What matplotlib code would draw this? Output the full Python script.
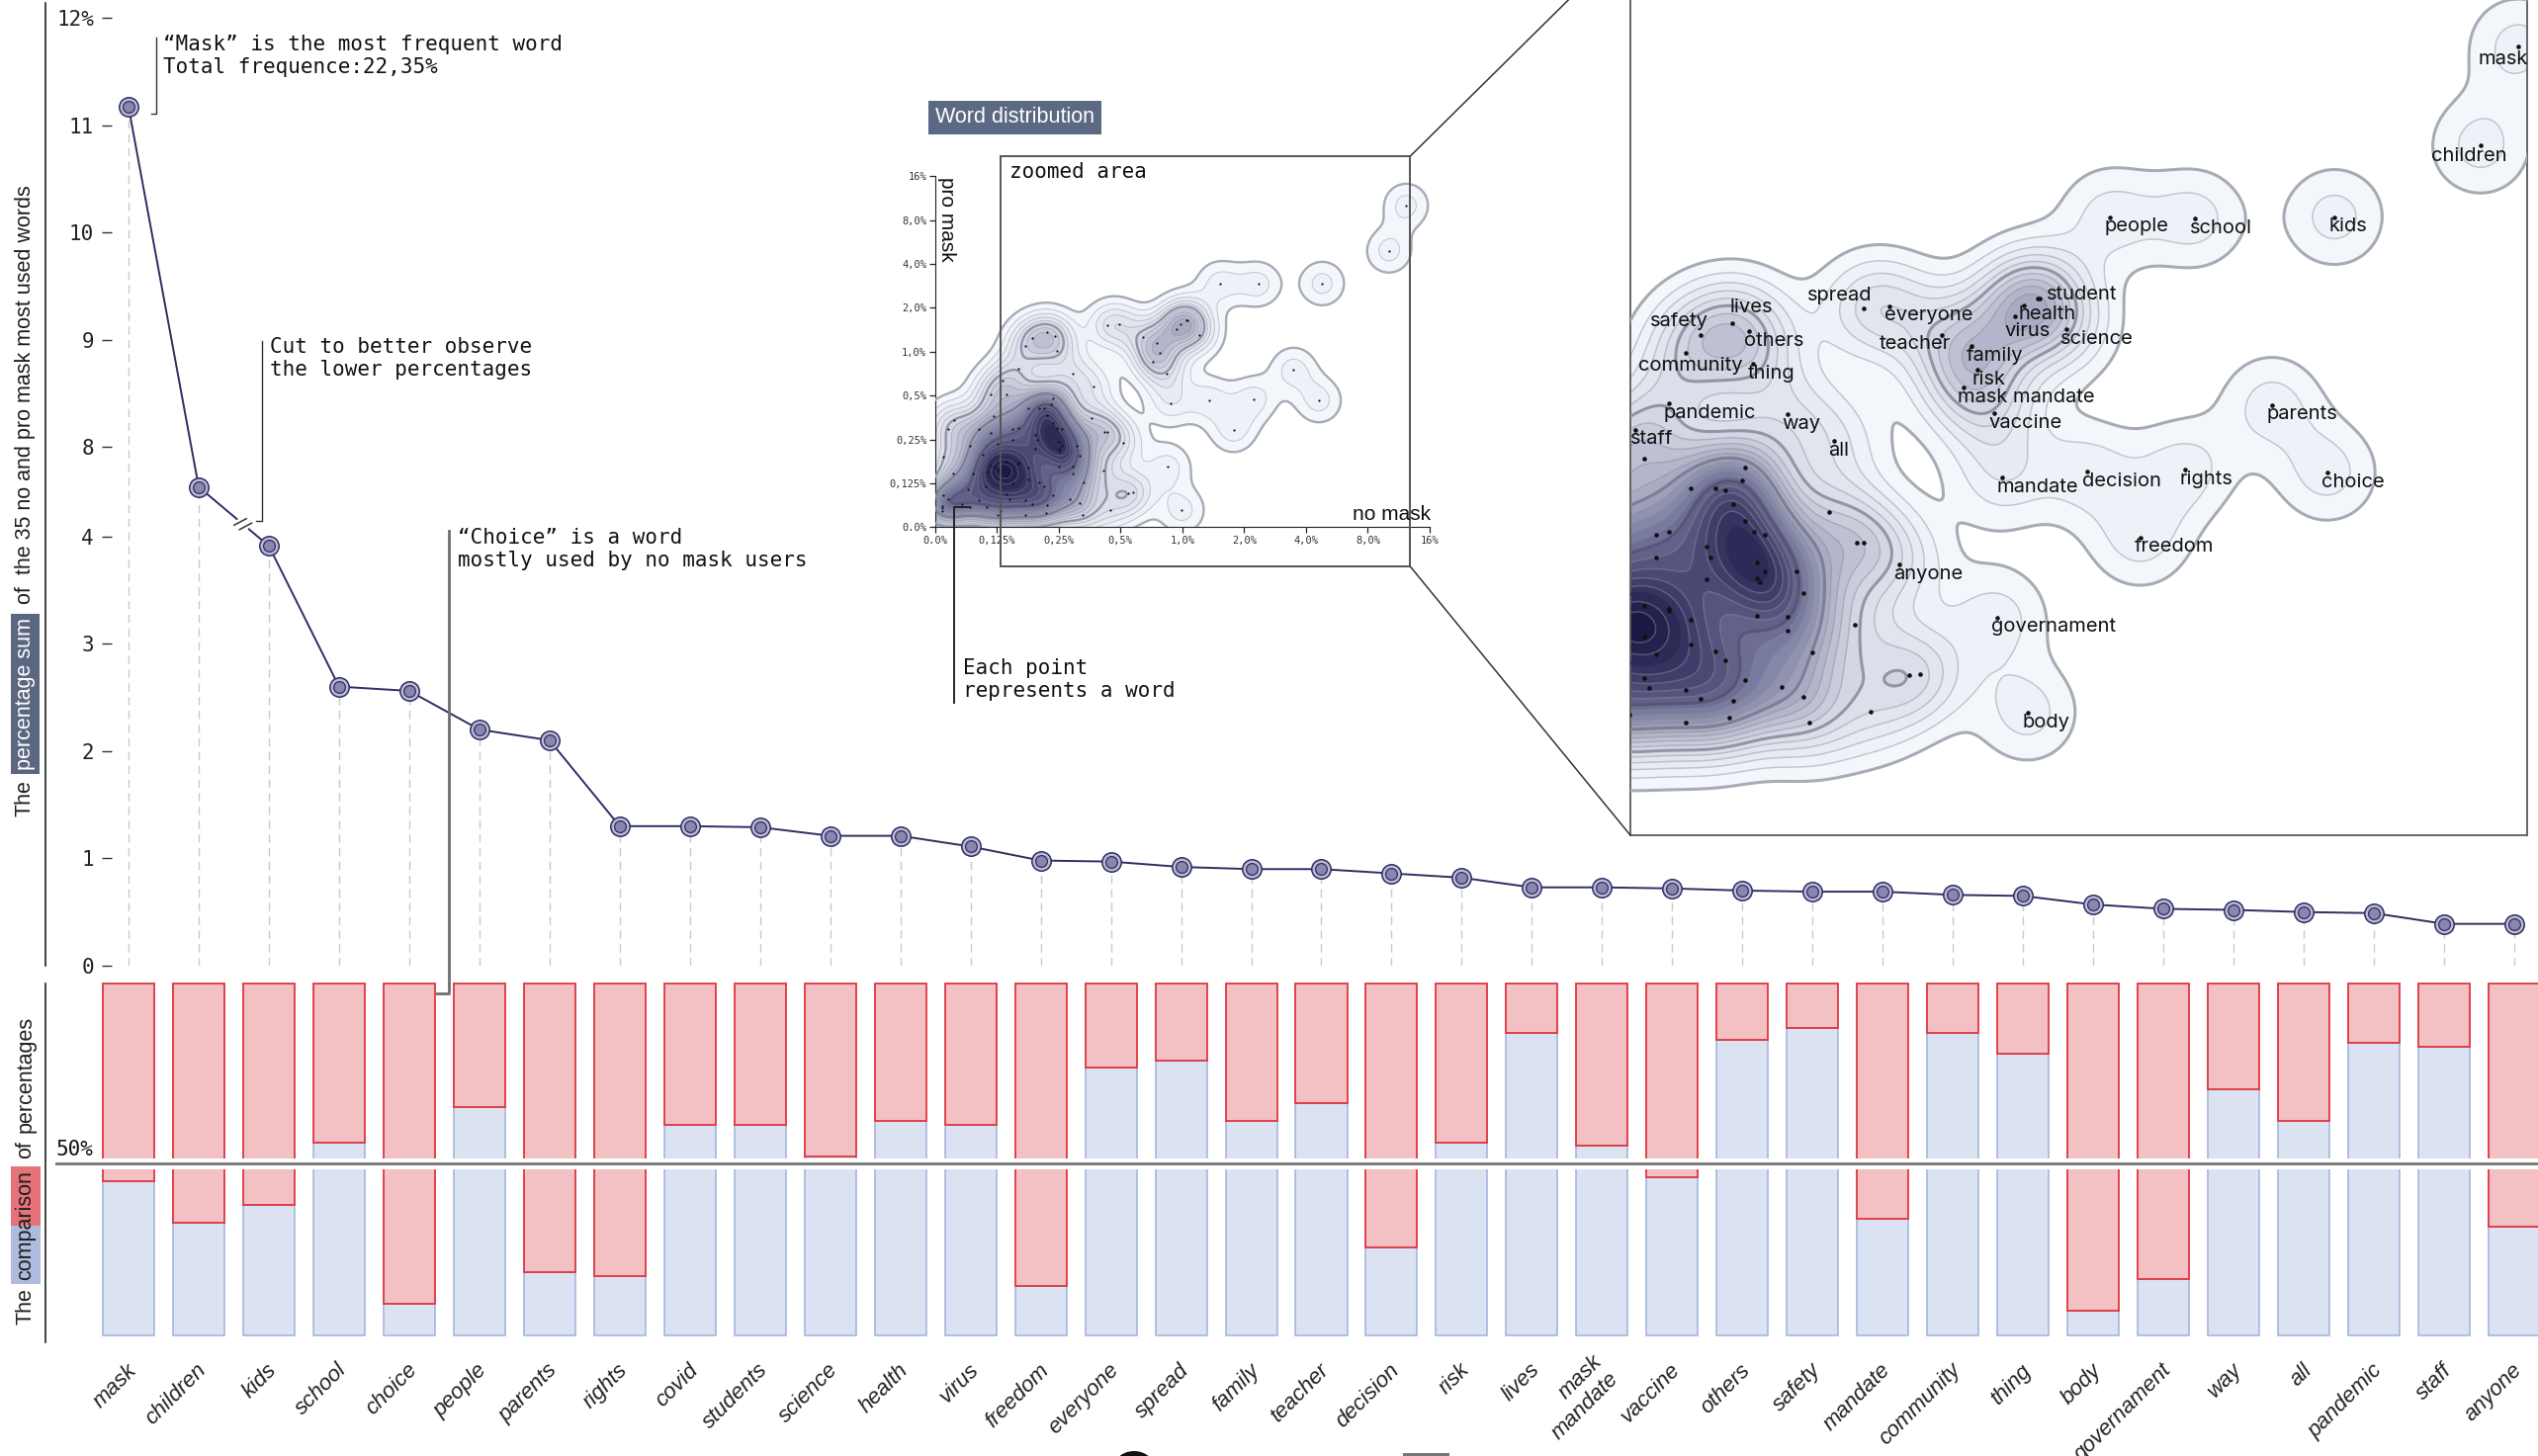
import numpy as np
import matplotlib
matplotlib.use("Agg")
import matplotlib.pyplot as plt
from matplotlib.colors import LinearSegmentedColormap
from matplotlib.lines import Line2D
from matplotlib.patches import Rectangle, ConnectionPatch, Circle
import matplotlib.transforms as mtransforms

W, H = 2567, 1473
MONO = "DejaVu Sans Mono"
SANS = "Liberation Sans"
WORDF = "Inter"

# ---------------- data ----------------
words = ["mask", "children", "kids", "school", "choice", "people", "parents", "rights",
         "covid", "students", "science", "health", "virus", "freedom", "everyone", "spread",
         "family", "teacher", "decision", "risk", "lives", "mask mandate", "vaccine", "others",
         "safety", "mandate", "community", "thing", "body", "governament", "way", "all",
         "pandemic", "staff", "anyone"]
# percentage sum (no mask + pro mask) / 2
pct_sum = [11.17, 7.63, 3.91, 2.60, 2.56, 2.20, 2.10, 1.30, 1.30, 1.29, 1.21, 1.21, 1.11,
           0.98, 0.97, 0.92, 0.90, 0.90, 0.86, 0.82, 0.73, 0.73, 0.72, 0.70, 0.69, 0.69,
           0.66, 0.65, 0.57, 0.53, 0.52, 0.50, 0.49, 0.39, 0.39]
# share of the word used by pro mask users (%), rest is no mask
pro_share = [46.4, 33.9, 39.3, 54.5, 9.5, 64.6, 19.0, 18.0, 59.6, 59.6, 50.5, 60.7, 59.6,
             14.9, 75.9, 77.8, 60.7, 65.8, 26.4, 54.5, 85.8, 53.6, 47.6, 83.8, 87.1, 35.0,
             85.8, 79.9, 7.4, 17.1, 69.7, 60.7, 82.9, 81.9, 32.8]

# word distribution (no mask %, pro mask %)
map_words = ["mask", "children", "kids", "people", "school", "student", "covid", "health",
             "virus", "science", "spread", "everyone", "teacher", "family", "risk",
             "mask mandate", "vaccine", "parents", "choice", "rights", "decision", "mandate",
             "freedom", "governament", "body", "anyone", "lives", "safety", "others",
             "community", "thing", "pandemic", "way", "staff", "all"]
map_no = [12.3, 10.14, 4.80, 1.52, 2.35, 1.05, 1.06, 0.977, 0.936, 1.216, 0.432, 0.493,
          0.644, 0.748, 0.773, 0.719, 0.841, 3.48, 4.63, 2.23, 1.355, 0.874, 1.775, 0.853,
          0.997, 0.517, 0.220, 0.187, 0.240, 0.173, 0.245, 0.159, 0.292, 0.134, 0.370]
map_pro = [10.05, 4.91, 2.93, 2.93, 2.90, 1.63, 1.63, 1.55, 1.43, 1.30, 1.51, 1.54, 1.25,
           1.153, 0.973, 0.853, 0.708, 0.753, 0.462, 0.472, 0.466, 0.445, 0.289, 0.162,
           0.048, 0.238, 1.363, 1.246, 1.285, 1.10, 1.015, 0.762, 0.705, 0.630, 0.579]
hidden_labels = {"covid"}

other_no = [0.140, 0.235, 0.231, 0.178, 0.202, 0.212, 0.221, 0.361, 0.235, 0.149, 0.159,
            0.246, 0.260, 0.416, 0.432, 0.193, 0.149, 0.197, 0.250, 0.306, 0.260, 0.193,
            0.250, 0.254, 0.316, 0.140, 0.159, 0.159, 0.250, 0.292, 0.178, 0.412, 0.292,
            0.140, 0.178, 0.149, 0.202, 0.331, 0.212, 0.543, 0.574, 0.140, 0.235, 0.144,
            0.173, 0.283, 0.187, 0.221, 0.316, 0.130, 0.446, 0.217, 0.173, 0.326,
            0.112, 0.119, 0.038, 0.027, 0.089, 0.113, 0.070, 0.126, 0.097, 0.016, 0.113,
            0.122, 0.127, 0.106, 0.037, 0.077, 0.103, 0.067, 0.016, 0.027, 0.089, 0.054,
            0.014, 0.071, 0.014, 0.104, 0.014, 0.127]
other_pro = [0.511, 0.478, 0.438, 0.411, 0.411, 0.406, 0.367, 0.348, 0.325, 0.295, 0.301,
             0.301, 0.295, 0.279, 0.279, 0.270, 0.250, 0.250, 0.241, 0.226, 0.226, 0.214,
             0.215, 0.209, 0.194, 0.176, 0.173, 0.170, 0.164, 0.163, 0.159, 0.154, 0.147,
             0.141, 0.133, 0.124, 0.127, 0.126, 0.116, 0.0965, 0.0986, 0.0926, 0.0905, 0.080,
             0.078, 0.081, 0.066, 0.063, 0.069, 0.045, 0.049, 0.041, 0.035, 0.035,
             0.509, 0.361, 0.339, 0.294, 0.293, 0.276, 0.227, 0.232, 0.197, 0.190, 0.166,
             0.159, 0.154, 0.151, 0.145, 0.145, 0.115, 0.108, 0.091, 0.079, 0.078, 0.066,
             0.061, 0.056, 0.054, 0.056, 0.047, 0.036]

dist_ticks = [0, 0.125, 0.25, 0.5, 1, 2, 4, 8, 16]
dist_ticklabels = ["0.0%", "0,125%", "0,25%", "0,5%", "1,0%", "2,0%", "4,0%", "8,0%", "16%"]
zoom_no = (0.1306, 12.87)
zoom_pro = (-0.112, 21.9)


# ---------------- scales ----------------
def cut_fwd(v):
    v = np.asarray(v, dtype=float)
    return np.where(v <= 4, v, np.where(v < 7.3, 4 + (v - 4) * 0.0394, v - 3.17))


def cut_inv(y):
    y = np.asarray(y, dtype=float)
    return np.where(y <= 4, y, np.where(y < 4.13, 4 + (y - 4) / 0.0394, y + 3.17))


def dbl_fwd(p):
    p = np.asarray(p, dtype=float)
    return np.where(p < 0.125, p / 0.125, np.log2(np.maximum(p, 0.125) / 0.125) + 1)


def dbl_inv(u):
    u = np.asarray(u, dtype=float)
    return np.where(u < 1, 0.125 * u, 0.125 * 2.0 ** (np.clip(u, 1, 60) - 1))


fig = plt.figure(figsize=(W / 100, H / 100), dpi=100)


def box(l, t, r, b):
    return [l / W, 1 - b / H, (r - l) / W, (b - t) / H]


def fline(xs, ys, **kw):
    fig.add_artist(Line2D([v / W for v in xs], [1 - v / H for v in ys],
                          transform=fig.transFigure, **kw))


def ftext(xp, yp, s, **kw):
    return fig.text(xp / W, 1 - yp / H, s, **kw)


x = np.arange(len(words))
X0, DX = 130, 70.97

# ---------------- top line chart ----------------
ax = fig.add_axes(box(113, 18, W, 977), facecolor="none")
ax.set_yscale("function", functions=(cut_fwd, cut_inv))
ax.set_xlim(-(X0 - 113) / DX, (W - X0) / DX)
ax.set_ylim(0, 12)
ax.vlines(x, 0, pct_sum, colors="#cacaca", linewidth=1, linestyles=(0, (6, 4)), zorder=1)
ax.plot(x, pct_sum, color="#2f2d63", lw=1.4, zorder=2)
ax.plot(x, pct_sum, "o", ls="none", ms=14, mfc="#bbbbd6", mec="#2f2d63", mew=1.1, zorder=3)
ax.plot(x, pct_sum, "o", ls="none", ms=8.5, mfc="#8987ae", mec="#2f2d63", mew=0.9, zorder=4)
ax.set_yticks([0, 1, 2, 3, 4, 8, 9, 10, 11, 12])
ax.set_yticklabels(["0", "1", "2", "3", "4", "8", "9", "10", "11", "12%"],
                   fontfamily=MONO, fontsize=15, color="#222")
ax.tick_params(axis="y", length=7, width=1, color="#333", pad=6)
ax.tick_params(axis="x", bottom=False, labelbottom=False)
for s in ax.spines.values():
    s.set_visible(False)
fline([46, 46], [3, 977], color="#222", lw=1.2)

# axis cut marker on the line between children and kids
p1 = ax.transData.transform((1, pct_sum[1]))
p2 = ax.transData.transform((2, pct_sum[2]))
d = (p2 - p1) / np.hypot(*(p2 - p1))
pm = p1 + 0.63 * (p2 - p1)
fig.add_artist(Line2D([pm[0] - 5 * d[0], pm[0] + 5 * d[0]], [pm[1] - 5 * d[1], pm[1] + 5 * d[1]],
                      color="white", lw=3, transform=mtransforms.IdentityTransform(), zorder=5))
for sgn in (-1, 1):
    c = pm + sgn * 3.5 * d
    e = np.array([np.cos(np.radians(28)), np.sin(np.radians(28))]) * 7
    fig.add_artist(Line2D([c[0] - e[0], c[0] + e[0]], [c[1] - e[1], c[1] + e[1]],
                          color="#333", lw=1.1, transform=mtransforms.IdentityTransform(), zorder=6))

# annotations
fline([153, 157.5, 157.5], [115, 115, 38], color="#333", lw=1)
ftext(165, 35, "\u201cMask\u201d is the most frequent word\nTotal frequence:22,35%",
      ha="left", va="top", fontfamily=MONO, fontsize=15, color="#111", linespacing=1.2)
fline([259, 265, 265], [527, 527, 345], color="#333", lw=1)
ftext(273, 341, "Cut to better observe\nthe lower percentages",
      ha="left", va="top", fontfamily=MONO, fontsize=15, color="#111", linespacing=1.2)
fline([442, 453.5, 453.5], [1005, 1005, 537], color="#6e6e6e", lw=2)
ftext(463, 534, "\u201cChoice\u201d is a word\nmostly used by no mask users",
      ha="left", va="top", fontfamily=MONO, fontsize=15, color="#111", linespacing=1.2)

# ---------------- comparison bars ----------------
ax_up = fig.add_axes(box(57, 993, W, 1172), facecolor="none")
ax_lo = fig.add_axes(box(57, 1183, W, 1352.5), facecolor="none")
pro = np.array(pro_share)
for a in (ax_up, ax_lo):
    a.bar(x, pro, width=0.733, color="#dbe2f1", edgecolor="#9fb1dd", linewidth=1.1)
    a.bar(x, 100 - pro, bottom=pro, width=0.733, color="#f3c1c3", edgecolor="#e0353f",
          linewidth=1.3)
    a.set_xlim(-(X0 - 57) / DX, (W - X0) / DX)
    a.set_yticks([])
    for s in a.spines.values():
        s.set_visible(False)
ax_up.set_ylim(50, 100.45)
ax_lo.set_ylim(-0.35, 50)
ax_up.set_xticks([])
ax_lo.set_xticks(x)
ax_lo.set_xticklabels([w.replace(" ", "\n") for w in words], rotation=45, ha="right",
                      va="center", rotation_mode="anchor", fontstyle="italic", fontsize=16,
                      fontfamily=SANS, color="#222")
ax_lo.tick_params(axis="x", length=0, pad=22)
shift = mtransforms.ScaledTranslation(0.05, 0, fig.dpi_scale_trans)
for lab in ax_lo.get_xticklabels():
    lab.set_transform(lab.get_transform() + shift)

fline([57, W], [1177, 1177], color="#808080", lw=2.2)
ftext(56, 1163, "50%", ha="left", va="center", fontfamily=MONO, fontsize=15, color="#111")
fline([46, 46], [995, 1358], color="#222", lw=1.2)

# ---------------- vertical labels ----------------
renderer = fig.canvas.get_renderer()


def stacked_label(xc, ybot, pieces, size=15.5, gap=10, pad=4):
    yd = H - ybot
    for txt, style in pieces:
        col = "white" if style == "dark" else "#1e1e1e"
        t = fig.text(xc / W, yd / H, txt, rotation=90, rotation_mode="anchor", ha="left",
                     va="center", fontsize=size, fontfamily=SANS, color=col, zorder=6)
        bb = t.get_window_extent(renderer)
        if style == "dark":
            fig.add_artist(Rectangle(((xc - 14.5) / W, (bb.y0 - pad) / H), 29 / W,
                                     (bb.height + 2 * pad) / H, transform=fig.transFigure,
                                     fc="#5b6680", ec="none", zorder=5))
        elif style == "split":
            mid = (bb.y0 + bb.y1) / 2
            fig.add_artist(Rectangle(((xc - 15) / W, (bb.y0 - pad) / H), 30 / W,
                                     (mid - bb.y0 + pad) / H, transform=fig.transFigure,
                                     fc="#aebbdc", ec="none", zorder=5))
            fig.add_artist(Rectangle(((xc - 15) / W, mid / H), 30 / W,
                                     (bb.y1 - mid + pad) / H, transform=fig.transFigure,
                                     fc="#e57379", ec="none", zorder=5))
        yd = bb.y1 + gap + (pad if style else 0)


stacked_label(25, 826, [("The", ""), ("percentage sum", "dark"),
                        ("of  the 35 no and pro mask most used words", "")])
stacked_label(26, 1340, [("The", ""), ("comparison", "split"), ("of", ""),
                         ("percentages", "")], gap=8)

# ---------------- word distribution (KDE) ----------------
all_no = np.r_[map_no, other_no]
all_pro = np.r_[map_pro, other_pro]
pu, pv = dbl_fwd(all_no), dbl_fwd(all_pro)
gu = np.linspace(-1.5, 9.5, 700)
gv = np.linspace(-1.5, 9.5, 700)
su, sv = 16.6 / 62.65, 16.6 / 44.4
Gu = np.exp(-(gu[None, :] - pu[:, None]) ** 2 / (2 * su ** 2))
Gv = np.exp(-(gv[None, :] - pv[:, None]) ** 2 / (2 * sv ** 2))
Z = Gv.T @ Gu
step = 0.417
n_lev = int(Z.max() // step)
levels = step * np.arange(1, n_lev + 1)
bounds = np.r_[levels, Z.max() + 1]
kde_cmap = LinearSegmentedColormap.from_list(
    "kde", ["#f3f6fb", "#dadde8", "#abadc4", "#77789d", "#43416e", "#1b1846"])
line_cmap = LinearSegmentedColormap.from_list("kdel", ["#a6acb4", "#787b93", "#1b1945"])
fill_cols = [kde_cmap(k / (n_lev - 1)) for k in range(n_lev)]
thick = levels[::5]
thick_cols = [line_cmap(k * 5 / (n_lev - 1)) for k in range(len(thick))]
GX, GY = np.meshgrid(dbl_inv(gu), dbl_inv(gv))


def draw_kde(a, thin_w, thick_w, ms):
    a.set_xscale("function", functions=(dbl_fwd, dbl_inv))
    a.set_yscale("function", functions=(dbl_fwd, dbl_inv))
    a.contourf(GX, GY, Z, levels=bounds, colors=fill_cols, zorder=1)
    a.contour(GX, GY, Z, levels=levels, colors="#8d939c", linewidths=thin_w, alpha=0.45,
              zorder=2)
    a.contour(GX, GY, Z, levels=thick, colors=thick_cols, linewidths=thick_w, zorder=3)
    a.plot(all_no, all_pro, "o", ls="none", ms=ms, color="#111", mew=0, zorder=4)


ax_in = fig.add_axes(box(945.5, 178.1, 1446, 533.3), facecolor="none")
draw_kde(ax_in, 0.7, 1.7, 1.6)
ax_in.set_xlim(0, 16)
ax_in.set_ylim(0, 16)
ax_in.set_xticks(dist_ticks)
ax_in.set_xticklabels(dist_ticklabels, fontfamily=MONO, fontsize=7.5, color="#333")
ax_in.set_yticks(dist_ticks)
ax_in.set_yticklabels(dist_ticklabels, fontfamily=MONO, fontsize=7.5, color="#333")
ax_in.tick_params(length=4, width=0.9, color="#222", pad=2)
ax_in.minorticks_off()
for s in ("top", "right"):
    ax_in.spines[s].set_visible(False)
for s in ("left", "bottom"):
    ax_in.spines[s].set_color("#222")
ax_in.add_patch(Rectangle((zoom_no[0], zoom_pro[0]), zoom_no[1] - zoom_no[0],
                          zoom_pro[1] - zoom_pro[0], fill=False, ec="#555", lw=1.4,
                          clip_on=False, zorder=6))

ftext(946, 119, "Word distribution", ha="left", va="center", fontsize=15.5,
      fontfamily=SANS, color="white",
      bbox=dict(boxstyle="square,pad=0.32", fc="#5b6a82", ec="none"))
ftext(957, 179, "pro mask", rotation=270, rotation_mode="anchor", ha="left", va="center",
      fontsize=15, fontfamily=SANS, color="#111")
ftext(1447, 520, "no mask", ha="right", va="center", fontsize=15, fontfamily=SANS,
      color="#111")
ftext(1021, 174, "zoomed area", ha="left", va="center", fontfamily=MONO, fontsize=15,
      color="#111")
fline([980, 965, 965], [513, 513, 711], color="#222", lw=1.4)
ftext(974, 666, "Each point\nrepresents a word", ha="left", va="top", fontfamily=MONO,
      fontsize=15, color="#111", linespacing=1.2)

# zoomed panel
ax_z = fig.add_axes(box(1649, -62, 2556, 845), facecolor="white")
draw_kde(ax_z, 1.1, 2.2, 3.3)
ax_z.set_xlim(*zoom_no)
ax_z.set_ylim(*zoom_pro)
ax_z.set_xticks([])
ax_z.set_yticks([])
ax_z.minorticks_off()
for s in ax_z.spines.values():
    s.set_color("#5a5a5a")
    s.set_linewidth(1.3)
# label placement (alignment, offset in points) where the default spot collides
special = {"mask": ("right", (7, -9)), "children": ("center", (-8, -8)),
           "student": ("left", (6.5, 2.7)), "lives": ("left", (-1.5, 11)),
           "safety": ("right", (5.5, 10)), "community": ("center", (4, -9.5)),
           "spread": ("right", (6, 9.5)), "teacher": ("right", (6, -6.5)),
           "virus": ("left", (-8, -11))}
for w, a_, b_ in zip(map_words, map_no, map_pro):
    if w in hidden_labels:
        continue
    ha, off = special.get(w, ("left", (-4, -7)))
    ax_z.annotate(w, (a_, b_), xytext=off, textcoords="offset points", ha=ha, va="center",
                  fontsize=14.5, fontfamily=WORDF, color="#111", zorder=6)

for xyA, xyB in [((zoom_no[1], zoom_pro[1]), (0, 1)), ((zoom_no[1], zoom_pro[0]), (0, 0))]:
    fig.add_artist(ConnectionPatch(xyA=xyA, coordsA=ax_in.transData, xyB=xyB,
                                   coordsB=ax_z.transAxes, color="#333", lw=1.1))

# legend items cut by the bottom edge
fig.add_artist(Circle((1147, H - 1492), 24, transform=mtransforms.IdentityTransform(),
                      fc="#111", ec="none"))
fig.add_artist(Rectangle((1419 / W, 0), 47 / W, 3 / H, transform=fig.transFigure,
                         fc="#777", ec="none"))

fig.savefig("out.png", dpi=100)
